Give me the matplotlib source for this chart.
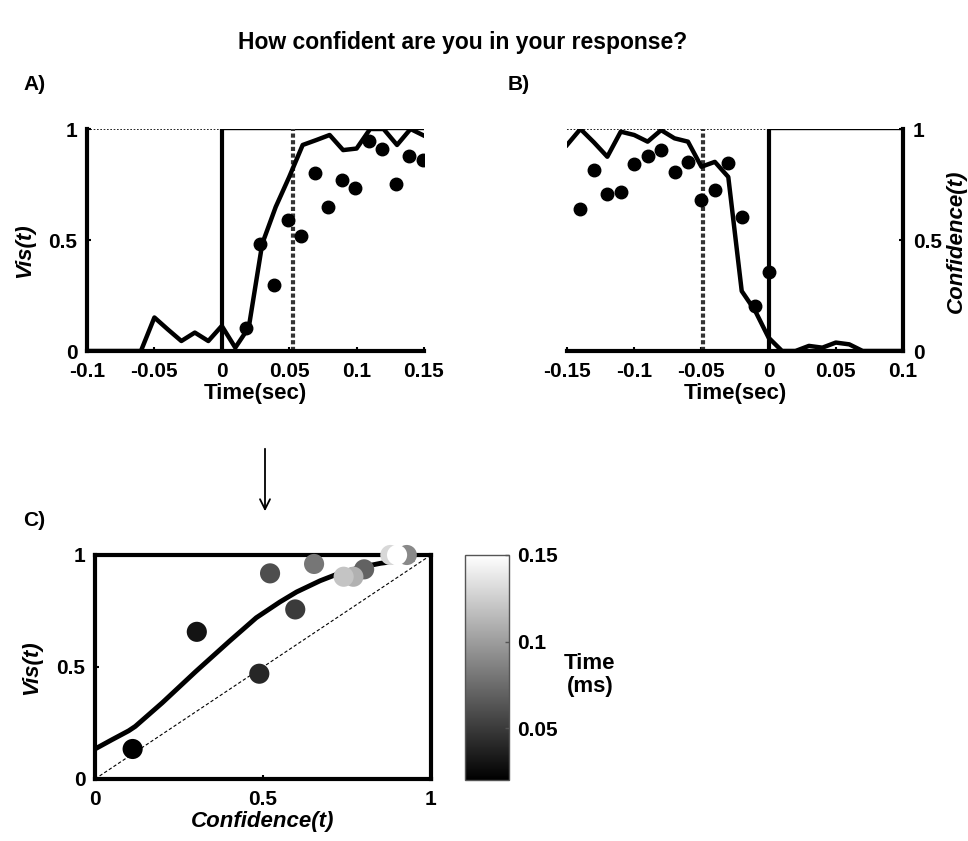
import matplotlib
matplotlib.use('Agg')
import matplotlib.pyplot as plt
import numpy as np

plt.rcParams['font.family'] = ['Liberation Sans', 'DejaVu Sans']
plt.rcParams['font.weight'] = 'bold'

# Панель A: Vis(t) относительно появления стимула
t_a = [-0.10, -0.09, -0.08, -0.07, -0.06, -0.05, -0.04, -0.03, -0.02, -0.01, 0.00,
       0.01, 0.02, 0.03, 0.04, 0.05, 0.06, 0.07, 0.08, 0.09, 0.10, 0.11, 0.12, 0.13,
       0.14, 0.15]
vis_line = [0, 0, 0, 0, 0, 0.151, 0.097, 0.045, 0.083, 0.045, 0.113,
            0.015, 0.106, 0.483, 0.649, 0.784, 0.928, 0.95, 0.973, 0.905, 0.912, 1.0, 1.0, 0.928,
            1.0, 0.97]
t_a_dots = [0.018, 0.028, 0.039, 0.049, 0.059, 0.069, 0.079, 0.089, 0.099, 0.109,
            0.119, 0.129, 0.139, 0.149]
vis_dots = [0.103, 0.483, 0.299, 0.591, 0.516, 0.80, 0.648, 0.772, 0.732, 0.946,
            0.908, 0.751, 0.878, 0.86]
marker_a = 0.053

# Панель B: Confidence(t) относительно ответа
t_b = [-0.15, -0.14, -0.13, -0.12, -0.11, -0.10, -0.09, -0.08, -0.07, -0.06, -0.05,
       -0.04, -0.03, -0.02, -0.01, 0.00, 0.01, 0.02, 0.03, 0.04, 0.05, 0.06, 0.07,
       0.08, 0.09, 0.10]
conf_line = [0.928, 1.0, 0.94, 0.875, 0.988, 0.973, 0.943, 0.995, 0.958, 0.943, 0.83,
             0.852, 0.784, 0.27, 0.181, 0.06, 0, 0, 0.023, 0.015, 0.038, 0.03, 0,
             0, 0, 0]
t_b_dots = [-0.14, -0.13, -0.12, -0.11, -0.10, -0.09, -0.08, -0.07, -0.06, -0.05,
            -0.04, -0.03, -0.02, -0.01, 0.00]
conf_dots = [0.641, 0.814, 0.709, 0.716, 0.842, 0.879, 0.905, 0.807, 0.852, 0.682,
             0.724, 0.848, 0.603, 0.204, 0.354]
marker_b = -0.049

# Панель C: Vis(t) против Confidence(t)
curve_conf = [0, 0.05, 0.1, 0.12, 0.2, 0.3, 0.4, 0.48, 0.55, 0.6, 0.67, 0.73, 0.8,
              0.85, 0.9, 0.95]
curve_vis = [0.134, 0.175, 0.215, 0.235, 0.34, 0.48, 0.615, 0.72, 0.79, 0.835, 0.885,
             0.92, 0.948, 0.963, 0.973, 0.98]
c_conf = [0.112, 0.303, 0.489, 0.596, 0.521, 0.801, 0.652, 0.928, 0.769, 0.740, 0.879, 0.899]
c_vis = [0.134, 0.657, 0.470, 0.757, 0.918, 0.936, 0.960, 1.0, 0.903, 0.903, 1.0, 1.0]
c_time = [0.02, 0.03, 0.04, 0.05, 0.06, 0.07, 0.08, 0.09, 0.11, 0.12, 0.13, 0.15]

W, H = 968, 841
fig = plt.figure(figsize=(W / 100, H / 100), dpi=100)


def box(l, t, r, b):
    return [l / W, 1 - b / H, (r - l) / W, (b - t) / H]


tick_fs = 15
lab_fs = 16


def time_panel(ax, t, line, td, dots, mark, xticks, xlabels, right):
    ax.plot(t, line, color='black', lw=3.2, zorder=3)
    ax.plot(td, dots, 'o', color='black', ms=9, zorder=4)
    ax.plot([t[0], 0], [1, 1], color='black', lw=1.2, ls=(0, (1, 1)), zorder=2)
    ax.plot([0, t[-1]], [1, 1], color='black', lw=1, zorder=2)
    ax.plot([0, 0], [0, 1], color='black', lw=3, zorder=2)
    ax.plot([mark, mark], [0, 1], color='#333333', lw=3, ls=(0, (1, 0.6)), zorder=2)
    ax.set_xlim(t[0], t[-1])
    ax.set_ylim(0, 1)
    for s in ['top', 'left', 'right']:
        ax.spines[s].set_visible(False)
    ax.spines['bottom'].set_linewidth(3)
    side = 'right' if right else 'left'
    ax.spines[side].set_visible(True)
    ax.spines[side].set_linewidth(3)
    ax.set_xticks(xticks)
    ax.set_xticklabels(xlabels, fontsize=tick_fs, fontweight='bold')
    ax.set_yticks([0, 0.5, 1])
    ax.set_yticklabels(['0', '0.5', '1'], fontsize=tick_fs, fontweight='bold')
    ax.tick_params(direction='in', length=3, width=1.5, pad=7)
    ax.tick_params(axis='x', pad=8)
    if right:
        ax.yaxis.tick_right()
    ax.set_xlabel('Time(sec)', fontsize=lab_fs, fontweight='bold', labelpad=1)


ax_a = fig.add_axes(box(87, 129, 424, 351))
time_panel(ax_a, t_a, vis_line, t_a_dots, vis_dots, marker_a,
           [-0.1, -0.05, 0, 0.05, 0.1, 0.15], ['-0.1', '-0.05', '0', '0.05', '0.1', '0.15'], False)

ax_b = fig.add_axes(box(567, 129, 903, 351))
time_panel(ax_b, t_b, conf_line, t_b_dots, conf_dots, marker_b,
           [-0.15, -0.1, -0.05, 0, 0.05, 0.1], ['-0.15', '-0.1', '-0.05', '0', '0.05', '0.1'], True)

ax_c = fig.add_axes(box(95, 555, 431, 779))
ax_c.plot([0, 1], [0, 1], color='black', lw=0.8, ls=(0, (3, 2)), zorder=1)
ax_c.plot(curve_conf, curve_vis, color='black', lw=3.5, zorder=2, solid_capstyle='butt')
sc = ax_c.scatter(c_conf, c_vis, c=c_time, cmap='gray', vmin=0.02, vmax=0.15, s=210,
                  edgecolors='none', zorder=3, clip_on=False)
ax_c.set_xlim(0, 1)
ax_c.set_ylim(0, 1)
for s in ax_c.spines.values():
    s.set_linewidth(3)
ax_c.set_xticks([0, 0.5, 1])
ax_c.set_xticklabels(['0', '0.5', '1'], fontsize=tick_fs, fontweight='bold')
ax_c.set_yticks([0, 0.5, 1])
ax_c.set_yticklabels(['0', '0.5', '1'], fontsize=tick_fs, fontweight='bold')
ax_c.tick_params(direction='in', length=3, width=1.5, pad=7)
ax_c.tick_params(axis='x', pad=8)
ax_c.set_xlabel('Confidence(t)', fontsize=lab_fs, fontweight='bold', style='italic', labelpad=1)

cax = fig.add_axes(box(465, 555, 509, 780))
cb = fig.colorbar(sc, cax=cax, ticks=[0.05, 0.1, 0.15])
cb.ax.set_yticklabels(['0.05', '0.1', '0.15'], fontsize=tick_fs, fontweight='bold')
cb.ax.tick_params(length=3, width=1, color='#555555', direction='in', pad=6)
cb.outline.set_edgecolor('#555555')
cb.outline.set_linewidth(1)
fig.text(590 / W, 1 - 675 / H, 'Time\n(ms)', ha='center', va='center', fontsize=lab_fs,
         fontweight='bold', linespacing=1.15)

# Подписи осей Y
fig.text(25 / W, 1 - 251 / H, 'Vis(t)', rotation=90, ha='center', va='center',
         fontsize=lab_fs, fontweight='bold', style='italic')
fig.text(956 / W, 1 - 241 / H, 'Confidence(t)', rotation=90, ha='center', va='center',
         fontsize=lab_fs, fontweight='bold', style='italic')
fig.text(32 / W, 1 - 668 / H, 'Vis(t)', rotation=90, ha='center', va='center',
         fontsize=lab_fs, fontweight='bold', style='italic')

# Заголовок и метки панелей
fig.text(463 / W, 1 - 42 / H, 'How confident are you in your response?', ha='center',
         va='center', fontsize=16.5, fontweight='bold')
fig.text(23 / W, 1 - 85 / H, 'A)', ha='left', va='center', fontsize=15, fontweight='bold')
fig.text(508 / W, 1 - 85 / H, 'B)', ha='left', va='center', fontsize=15, fontweight='bold')
fig.text(23 / W, 1 - 520 / H, 'C)', ha='left', va='center', fontsize=15, fontweight='bold')

# Стрелка
fig.patches.append(matplotlib.patches.FancyArrowPatch(
    (265 / W, 1 - 446 / H), (265 / W, 1 - 514 / H), transform=fig.transFigure,
    arrowstyle='->', mutation_scale=18, lw=1.3, color='black'))

fig.savefig('out.png', dpi=100)
